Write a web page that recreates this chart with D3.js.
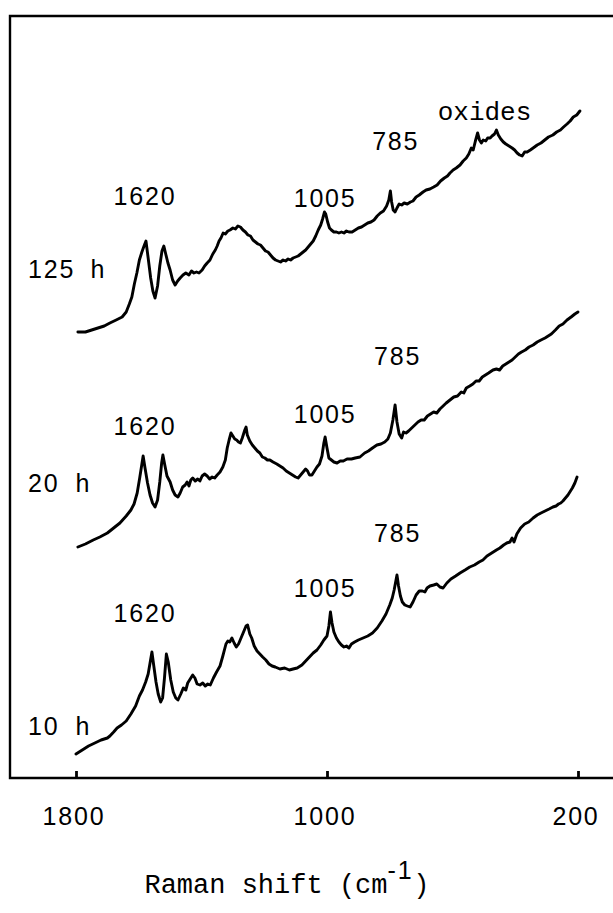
<!DOCTYPE html>
<html lang="en">
<head>
<meta charset="UTF-8">
<title>Raman spectra</title>
<script src="https://d3js.org/d3.v7.min.js"></script>
<style>
  body { margin: 0; background: #fff; }
  .trace { fill: none; stroke: #000; stroke-width: 2.9; stroke-linejoin: round; stroke-linecap: round; }
  .num { font-family: "Liberation Sans", sans-serif; font-size: 25px; letter-spacing: 1.8px; }
  .mono { font-family: "Liberation Mono", monospace; }
</style>
</head>
<body>
<svg width="613" height="913"></svg>
<script>
// wavenumber (cm-1) and intensity (arbitrary units, traces offset)
const wn10 = [1800,1780,1760,1740,1720,1700,1692,1680,1669,1655,1640,1625,1610,1598,1588,1578,1570,1564,1558,1552,1545,1538,1530,1524,1518,1512,1506,1498,1490,1482,1475,1466,1458,1450,1444,1436,1428,1421,1414,1405,1396,1388,1380,1372,1362,1352,1341,1332,1322,1316,1310,1303,1296,1289,1282,1274,1266,1258,1253,1246,1240,1232,1223,1214,1205,1195,1185,1175,1165,1150,1135,1120,1108,1095,1080,1068,1056,1044,1032,1020,1010,1000,994,989,984,978,970,962,954,946,938,930,922,912,900,885,870,855,840,825,812,800,792,786,780,777,772,766,760,752,744,735,726,716,706,696,688,681,672,660,650,640,630,618,605,590,576,560,545,530,515,503,490,475,460,449,437,427,417,410,404,395,383,370,357,343,330,318,305,292,280,270,262,255,248,240,232,226,218,210,203];
const i10  = [24,28,32,35,38,40,42,46,50,53,57,64,72,82,88,96,104,115,126,112,96,84,76,80,100,124,116,98,86,80,78,84,90,88,95,99,103,100,94,93,95,92,94,93,100,106,112,122,134,137,136,140,135,131,134,140,146,152,153,144,140,132,127,124,121,118,114,112,111,109,110,108,109,110,113,117,121,125,128,133,138,142,152,166,155,146,140,136,133,131,132,130,134,136,138,140,142,145,150,157,164,173,180,188,198,203,192,182,176,173,172,171,176,183,187,187,186,190,192,193,194,191,190,195,199,202,205,208,211,213,216,218,222,225,228,230,233,235,236,240,236,244,250,254,256,260,263,265,267,269,271,272,274,275,277,280,283,286,290,295,301];

const wn20 = [1794,1770,1745,1724,1700,1680,1660,1640,1625,1615,1605,1597,1590,1586,1580,1572,1564,1556,1548,1540,1533,1527,1523,1517,1510,1500,1492,1484,1475,1468,1460,1452,1446,1440,1434,1428,1420,1412,1405,1398,1390,1382,1374,1366,1358,1350,1341,1332,1324,1318,1312,1306,1300,1294,1288,1282,1276,1270,1262,1258,1254,1246,1238,1230,1222,1214,1206,1198,1190,1182,1172,1160,1150,1140,1130,1120,1110,1100,1092,1084,1076,1068,1062,1056,1048,1040,1032,1024,1016,1010,1006,1000,994,986,978,968,958,948,936,922,910,895,880,868,855,841,828,816,806,798,790,783,777,770,762,756,748,740,730,720,710,700,690,680,670,660,650,640,630,620,608,596,584,572,564,556,545,535,525,515,505,495,485,471,460,450,440,430,420,410,400,390,380,368,356,343,330,318,305,295,285,272,260,248,235,222,210,200];
const i20  = [231,234,238,241,245,250,255,262,268,274,285,300,314,322,310,295,283,275,271,278,296,315,323,313,302,296,288,283,281,285,291,293,296,292,298,300,297,299,297,302,304,302,299,301,300,303,306,311,318,330,338,345,342,339,338,336,335,340,348,351,343,337,333,330,327,325,321,320,318,318,316,314,312,310,307,305,303,301,300,303,306,309,307,303,303,307,311,314,322,335,341,330,320,318,316,315,317,317,319,319,320,321,325,327,330,333,334,336,339,345,358,373,356,344,340,346,345,347,350,353,356,358,358,362,364,366,365,369,372,375,378,381,382,386,385,390,392,394,397,397,401,403,405,408,409,408,412,414,416,418,421,424,426,428,431,433,436,438,440,442,444,448,452,454,458,461,464,466];

const wn125 = [1794,1770,1750,1730,1710,1692,1672,1653,1640,1630,1622,1614,1606,1598,1590,1582,1577,1570,1562,1555,1548,1540,1533,1526,1520,1514,1507,1500,1492,1484,1476,1468,1459,1450,1440,1432,1424,1416,1408,1398,1390,1382,1373,1364,1356,1350,1344,1338,1331,1324,1316,1309,1300,1292,1284,1276,1268,1260,1252,1244,1236,1228,1220,1212,1204,1196,1188,1180,1172,1164,1156,1148,1140,1132,1124,1116,1108,1100,1092,1084,1076,1068,1060,1052,1044,1036,1028,1020,1014,1008,1004,998,992,986,978,970,962,954,946,938,930,920,910,900,890,880,870,860,850,840,830,820,810,803,798,794,789,783,777,770,762,754,744,734,726,716,706,694,684,672,660,649,638,626,616,608,598,588,576,566,556,548,540,534,527,520,514,508,502,494,488,480,474,466,460,454,446,438,430,420,410,402,394,386,378,370,362,352,343,330,318,306,294,280,268,256,246,235,225,215,204,194];
const i125  = [446,446,448,450,452,455,458,461,466,474,481,494,505,518,526,533,537,520,500,487,480,492,512,527,532,524,515,508,498,493,497,500,503,505,503,507,505,506,505,508,512,515,518,524,528,532,537,540,545,544,547,548,550,549,552,551,548,546,543,542,538,536,534,533,530,527,526,523,520,518,517,516,518,517,519,518,520,521,522,524,526,528,531,534,537,542,548,553,559,566,564,556,550,548,546,546,545,546,545,547,546,546,548,550,551,553,555,556,558,562,565,567,572,578,587,576,568,566,570,574,573,575,574,576,577,581,583,586,588,589,591,593,597,600,602,605,608,610,613,617,620,624,630,628,637,645,638,635,638,637,640,640,642,644,648,643,639,636,634,632,630,628,625,623,622,626,626,628,630,633,635,638,641,643,646,648,651,654,657,661,663,667];

const traceNames = ["10 h", "20 h", "125 h"];
const xTicks = [1800, 1000, 200];

// peak labels: [text, wavenumber, intensity]
const peaks10  = [["1620", 1580, 156], ["1005", 1006, 181], ["785", 775, 236]];
const peaks20  = [["1620", 1580, 343], ["1005", 1006, 355], ["785", 775, 413]];
const peaks125 = [["1620", 1580, 573], ["1005", 1006, 571], ["785", 781, 628], ["oxides", 498, 658]];

const svg = d3.select("svg");
const frameLeft = 10, frameTop = 16, frameBottom = 778;

const x = d3.scaleLinear().domain([1800, 200]).range([76, 578]);
const y = d3.scaleLinear().domain([0, 762]).range([frameBottom, frameTop]);

// frame: left, top and bottom lines (right side is cut off)
svg.append("path")
  .attr("d", `M613,${frameTop}H${frameLeft}V${frameBottom}H613`)
  .attr("fill", "none").attr("stroke", "#000").attr("stroke-width", 2.4);

const axis = svg.append("g").attr("transform", `translate(0,${frameBottom})`)
  .call(d3.axisTop(x).tickValues(xTicks).tickSize(7).tickFormat(""));
axis.select(".domain").remove();
axis.selectAll("line").attr("stroke-width", 2.8);

svg.selectAll(".tick-label").data(xTicks).enter().append("text")
  .attr("class", "num")
  .attr("x", d => x(d) - 2).attr("y", 825)
  .attr("text-anchor", "middle")
  .text(d => d);

// title
const title = svg.append("text").attr("x", 287).attr("y", 893)
  .attr("text-anchor", "middle").attr("class", "mono").attr("font-size", 27);
title.append("tspan").text("Raman shift (cm");
title.append("tspan").attr("class", "num").attr("font-size", 20).attr("dy", -14).text("-1");
title.append("tspan").attr("dy", 14).text(")");

const line = d3.line().x(d => x(d[0])).y(d => y(d[1]));
const traces = [d3.zip(wn10, i10), d3.zip(wn20, i20), d3.zip(wn125, i125)];

svg.selectAll(".trace").data(traces).enter().append("path")
  .attr("class", "trace")
  .attr("d", line);

// trace names, "h" in typewriter face
const nameY = [735, 492, 278];
traceNames.forEach((n, k) => {
  const [num, unit] = n.split(" ");
  const t = svg.append("text").attr("y", nameY[k]);
  t.append("tspan").attr("class", "num").attr("x", 28).text(num);
  t.append("tspan").attr("class", "mono").attr("font-size", 25).attr("x", k === 2 ? 90 : 75).text(unit);
});

[peaks10, peaks20, peaks125].forEach(list => {
  svg.selectAll(null).data(list).enter().append("text")
    .attr("class", d => d[0] === "oxides" ? "mono" : "num")
    .attr("font-size", d => d[0] === "oxides" ? 26 : null)
    .attr("x", d => x(d[1])).attr("y", d => y(d[2]))
    .attr("text-anchor", "middle")
    .text(d => d[0]);
});
</script>
</body>
</html>
